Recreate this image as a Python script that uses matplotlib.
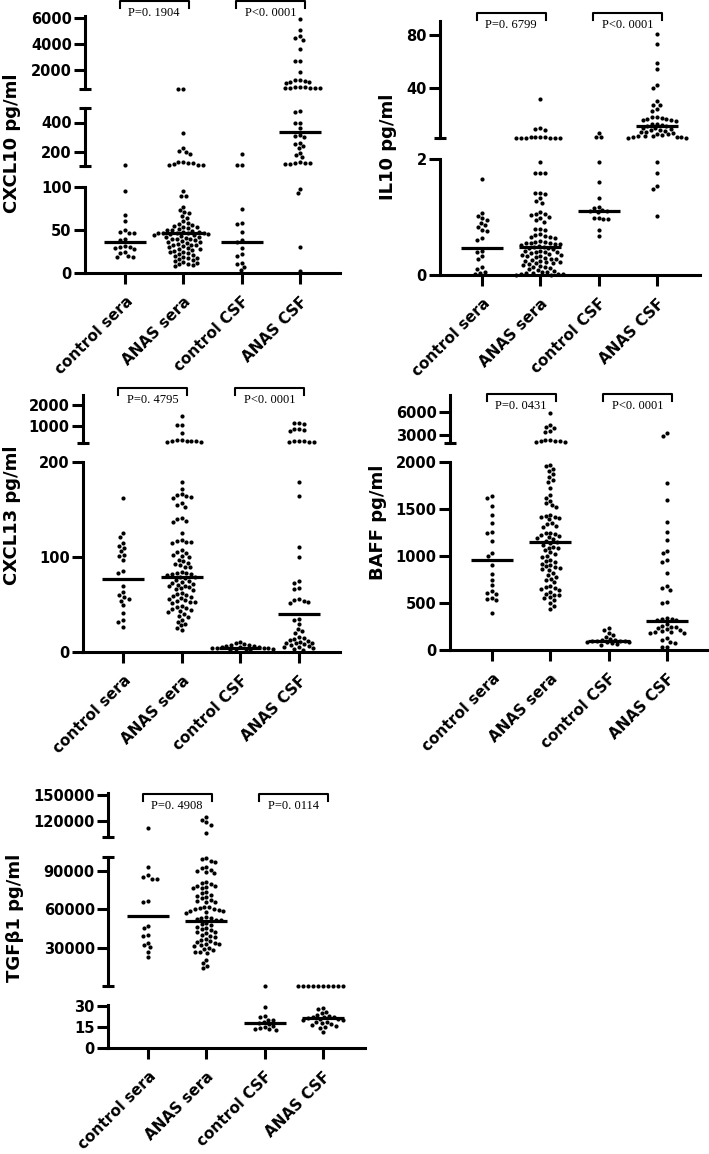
import numpy as np
import matplotlib
matplotlib.use("Agg")
import matplotlib.pyplot as plt
from matplotlib.transforms import blended_transform_factory

plt.rcParams['font.family'] = ['DejaVu Sans']
plt.rcParams['font.weight'] = 'bold'

W, H = 709, 1154

groups = ['control sera', 'ANAS sera', 'control CSF', 'ANAS CSF']

# ---- CXCL10 ----
CXCL10_CTRL_SERA = [105, 95, 68, 61, 50, 48, 47, 46, 40, 38, 31, 30, 30, 29, 28, 24, 23, 20, 19, 19]
CXCL10_ANAS_SERA = [560, 555, 330, 225, 205, 195, 185, 130, 125, 120, 118, 115, 110, 108, 105,
                    95, 90, 89, 77, 73, 71, 70, 66, 64, 60, 58, 57, 56, 55, 54, 53, 52, 51, 50, 50,
                    49, 48, 48, 47, 47, 46, 46, 46, 45, 45, 44, 44, 43, 42, 42, 41, 40, 40, 39, 38,
                    37, 36, 36, 35, 34, 33, 32, 32, 31, 30, 29, 28, 28, 27, 26, 25, 24, 23, 22, 21,
                    20, 19, 18, 17, 16, 15, 14, 13, 12, 11, 10, 9, 8]
CXCL10_CTRL_CSF = [180, 108, 106, 74, 58, 57, 48, 38, 36, 29, 22, 20, 12, 10, 7, 3]
CXCL10_ANAS_CSF = [5900, 5050, 4600, 4450, 4300, 3600, 2700, 2680, 1850, 1250, 1200, 1150, 1100,
                   1050, 1000, 700, 680, 660, 650, 640, 620, 600, 580, 480, 475, 400, 395, 360,
                   315, 310, 300, 260, 250, 235, 225, 190, 175, 160, 125, 122, 120, 118, 115, 112,
                   98, 93, 30, 2]
CXCL10_MEDIAN = [36, 46, 36, 333]
CXCL10_P = ['P=0. 1904', 'P<0. 0001']

# ---- IL10 ----
IL10_CTRL_SERA = [1.66, 1.07, 1.02, 0.98, 0.94, 0.90, 0.86, 0.83, 0.77, 0.76, 0.63, 0.61, 0.41,
                  0.39, 0.32, 0.28, 0.13, 0.11, 0.06, 0.04, 0.01]
IL10_ANAS_SERA = [31.5, 9.8, 9.2, 8.5, 3.0, 2.9, 2.8, 2.7, 2.6, 2.5, 2.5, 2.4, 2.4, 2.35,
                  1.95, 1.76, 1.76, 1.75, 1.42, 1.41, 1.40, 1.32, 1.28, 1.24, 1.08, 1.06, 1.05,
                  1.03, 1.00, 0.98, 0.95, 0.92, 0.80, 0.79, 0.78, 0.70, 0.69, 0.68, 0.66, 0.65,
                  0.64, 0.58, 0.57, 0.57, 0.56, 0.56, 0.55, 0.54, 0.53, 0.52, 0.50, 0.49, 0.48,
                  0.47, 0.46, 0.44, 0.42, 0.41, 0.40, 0.40, 0.39, 0.38, 0.36, 0.35, 0.34, 0.33,
                  0.32, 0.31, 0.30, 0.28, 0.27, 0.26, 0.25, 0.24, 0.23, 0.22, 0.21, 0.20, 0.19,
                  0.17, 0.15, 0.14, 0.13, 0.12, 0.10, 0.08, 0.07, 0.06, 0.05, 0.04, 0.03, 0.02,
                  0.01, 0.01, 0.0, 0.0]
IL10_CTRL_CSF = [6.1, 3.0, 2.9, 1.95, 1.60, 1.33, 1.18, 1.16, 1.12, 1.11, 1.10, 1.09, 0.99, 0.98,
                 0.97, 0.96, 0.78, 0.67]
IL10_ANAS_CSF = [81, 73, 59, 54, 42, 40, 30, 27.5, 27, 24, 23, 18.5, 18, 17.5, 17, 16.5, 16.2, 16,
                 15.5, 13, 12.5, 12, 11.5, 11, 10, 9.5, 9, 8.5, 8, 7.5, 7, 6.5, 6, 5.5, 5, 4.5, 4,
                 3.8, 3.5, 3.2, 3, 2.8, 2.6, 2.5, 1.95, 1.76, 1.53, 1.48, 1.02]
IL10_MEDIAN = [0.47, 0.48, 1.10, 11.4]
IL10_P = ['P=0. 6799', 'P<0. 0001']

# ---- CXCL13 ----
CXCL13_CTRL_SERA = [162, 125, 121, 115, 112, 110, 106, 102, 101, 97, 85, 83, 69, 63, 60, 58, 56,
                    54, 49, 41, 34, 32, 26]
CXCL13_ANAS_SERA = [1480, 1060, 1040, 680, 340, 320, 310, 300, 290, 280, 270, 260, 179, 172, 166,
                    165, 164, 163, 162, 157, 155, 153, 141, 140, 138, 137, 125, 118, 117, 116, 116,
                    115, 107, 105, 104, 102, 101, 100, 97, 96, 94, 93, 92, 90, 89, 84, 83, 83, 82,
                    82, 81, 79, 79, 78, 76, 75, 74, 73, 72, 71, 70, 69, 68, 67, 66, 65, 62, 61, 60,
                    59, 58, 57, 56, 55, 54, 53, 53, 52, 48, 47, 46, 45, 44, 43, 42, 40, 38, 37, 34,
                    32, 30, 28, 25, 23]
CXCL13_CTRL_CSF = [11, 9, 8, 7, 7, 6, 6, 5, 5, 5, 4, 4, 4, 4, 3, 3, 3, 2, 2]
CXCL13_ANAS_CSF = [1150, 1130, 1100, 870, 850, 820, 760, 300, 290, 280, 270, 260, 250, 179, 164,
                   111, 100, 75, 73, 67, 66, 56, 55, 54, 53, 52, 35, 34, 29, 24, 22, 20, 16, 15,
                   14, 13, 12, 11, 10, 10, 9, 8, 7, 6, 5, 5, 4, 3, 2]
CXCL13_MEDIAN = [77, 79, 4.5, 40]
CXCL13_P = ['P=0. 4795', 'P<0. 0001']

# ---- BAFF ----
BAFF_CTRL_SERA = [1640, 1620, 1530, 1440, 1350, 1260, 1240, 1160, 1030, 1000, 905, 810, 745, 690,
                  625, 610, 600, 555, 540, 530, 395]
BAFF_ANAS_SERA = [5900, 4300, 4100, 3900, 3600, 3450, 2400, 2350, 2300, 2250, 2200, 2150, 2100,
                  1970, 1960, 1930, 1900, 1870, 1840, 1810, 1790, 1720, 1650, 1620, 1590, 1560,
                  1540, 1520, 1440, 1430, 1420, 1410, 1400, 1390, 1350, 1340, 1320, 1310, 1250,
                  1240, 1230, 1220, 1210, 1200, 1190, 1180, 1160, 1150, 1140, 1120, 1100, 1090,
                  1080, 1060, 1040, 1020, 1000, 990, 960, 950, 940, 920, 900, 890, 880, 870, 860,
                  850, 820, 800, 780, 760, 740, 720, 680, 670, 660, 650, 640, 620, 600, 590, 580,
                  565, 550, 530, 500, 470, 440]
BAFF_CTRL_CSF = [235, 210, 180, 160, 140, 120, 110, 105, 100, 98, 95, 92, 90, 88, 80, 70, 60, 55]
BAFF_ANAS_CSF = [3250, 2900, 1780, 1600, 1360, 1260, 1170, 1055, 1030, 960, 940, 820, 680, 660,
                 640, 510, 500, 345, 335, 330, 320, 315, 280, 260, 250, 240, 230, 220, 210, 200,
                 195, 190, 185, 180, 130, 110, 90, 75, 35, 30]
BAFF_MEDIAN = [957, 1150, 96, 309]
BAFF_P = ['P=0. 0431', 'P<0. 0001']

# ---- TGFb1 ----
TGFB1_CTRL_SERA = [112000, 93000, 86500, 85000, 84000, 83500, 66500, 66000, 47000, 45000, 40000,
                   39500, 34000, 32000, 30500, 26500, 22500]
TGFB1_ANAS_SERA = [124000, 121000, 118000, 115500, 105500, 100000, 99000, 98000, 97000, 93000,
                   92000, 91000, 90000, 89000, 88500, 81500, 80500, 79500, 78500, 78000, 77500,
                   77000, 76500, 73500, 72500, 71500, 70500, 69500, 68500, 67500, 66500, 66000,
                   65500, 62000, 61500, 61000, 60500, 60000, 59500, 59000, 58500, 58000, 57500,
                   54000, 53500, 53000, 52500, 52000, 51500, 49500, 48500, 47500, 46500, 45500,
                   44500, 43500, 42500, 42000, 41500, 40000, 39000, 38000, 37000, 36000, 35000,
                   34500, 34000, 33000, 32500, 32000, 31500, 30000, 29000, 28000, 27000, 26500,
                   26000, 20500, 18000, 16000, 14000]
TGFB1_CTRL_CSF = [40, 29.5, 23, 22, 20.5, 20, 19, 18, 17, 16, 15, 14.5, 14, 13.5, 13]
TGFB1_ANAS_CSF = [40, 40, 40, 40, 40, 40, 40, 40, 40, 40, 28.5, 28, 26, 25, 24, 23, 22.5, 22, 22,
                  21.5, 21, 21, 20.5, 20, 19, 18.5, 18, 17, 16.5, 16, 15, 14.5, 11.5]
TGFB1_MEDIAN = [54800, 50900, 18, 21.5]
TGFB1_P = ['P=0. 4908', 'P=0. 0114']

# layout in pixels: axis x-range, first tick px, tick spacing, segments (top px, bottom px, lo, hi, ticks)
panels = [
    dict(label='CXCL10 pg/ml', data=[CXCL10_CTRL_SERA, CXCL10_ANAS_SERA, CXCL10_CTRL_CSF, CXCL10_ANAS_CSF],
         med=CXCL10_MEDIAN, p=CXCL10_P, x0=85, x1=340, t0=125, sp=58.33,
         segs=[(187, 273, 0, 100, [0, 50, 100]), (108, 166, 100, 500, [200, 400]),
               (16, 89, 540, 6150, [2000, 4000, 6000])],
         lab=(12, 143), br=1),
    dict(label='IL10 pg/ml', data=[IL10_CTRL_SERA, IL10_ANAS_SERA, IL10_CTRL_CSF, IL10_ANAS_CSF],
         med=IL10_MEDIAN, p=IL10_P, x0=440, x1=700, t0=482, sp=58.33,
         segs=[(159, 275, 0, 2, [0, 2]), (21, 138, 2.3, 90.6, [40, 80])],
         lab=(388, 147), br=13),
    dict(label='CXCL13 pg/ml', data=[CXCL13_CTRL_SERA, CXCL13_ANAS_SERA, CXCL13_CTRL_CSF, CXCL13_ANAS_CSF],
         med=CXCL13_MEDIAN, p=CXCL13_P, x0=83, x1=340, t0=123, sp=58.67,
         segs=[(462, 652, 0, 200, [0, 100, 200]), (395, 443, 201, 2480, [1000, 2000])],
         lab=(12, 515), br=388),
    dict(label='BAFF pg/ml', data=[BAFF_CTRL_SERA, BAFF_ANAS_SERA, BAFF_CTRL_CSF, BAFF_ANAS_CSF],
         med=BAFF_MEDIAN, p=BAFF_P, x0=450, x1=707, t0=492, sp=58.33,
         segs=[(462, 650, 0, 2000, [0, 500, 1000, 1500, 2000]), (395, 443, 2001, 8217, [3000, 6000])],
         lab=(378, 522), br=394),
    dict(label='TGFβ1 pg/ml', data=[TGFB1_CTRL_SERA, TGFB1_ANAS_SERA, TGFB1_CTRL_CSF, TGFB1_ANAS_CSF],
         med=TGFB1_MEDIAN, p=TGFB1_P, x0=108, x1=365, t0=148, sp=58.33,
         segs=[(1005, 1048, 0, 31, [0, 15, 30]), (857, 986, 35, 100900, [30000, 60000, 90000]),
               (793, 837, 101000, 152500, [120000, 150000])],
         lab=(15, 918), br=794),
]

LW = 2.2
DOT_D = 4.9  # px between dot centres


def swarm(ys, d):
    xs = np.zeros(len(ys))
    placed = []
    for i in np.argsort(ys, kind='stable'):
        y = ys[i]
        near = [(xj, yj) for xj, yj in placed if abs(yj - y) < d]
        cands = [0.0]
        for xj, yj in near:
            off = np.sqrt(d * d - (yj - y) ** 2)
            cands += [xj - off, xj + off]
        cands.sort(key=abs)
        for c in cands:
            if all((c - xj) ** 2 + (y - yj) ** 2 >= d * d - 1e-6 for xj, yj in near):
                xs[i] = c
                break
        placed.append((xs[i], y))
    return xs


def seg_of(v, segs):
    for k, (_, _, lo, hi, _) in enumerate(segs):
        if lo <= v <= hi:
            return k
    dists = [min(abs(v - lo), abs(v - hi)) for (_, _, lo, hi, _) in segs]
    return int(np.argmin(dists))


fig = plt.figure(figsize=(W / 100, H / 100), dpi=100)

for P in panels:
    x0, x1, t0, sp = P['x0'], P['x1'], P['t0'], P['sp']
    xlim = ((x0 - t0) / sp, (x1 - t0) / sp)
    axes = []
    nseg = len(P['segs'])
    for k, (yt, yb, lo, hi, ticks) in enumerate(P['segs']):
        ax = fig.add_axes([x0 / W, 1 - yb / H, (x1 - x0) / W, (yb - yt) / H])
        ax.set_xlim(*xlim)
        ax.set_ylim(lo, hi)
        ax.patch.set_alpha(0)
        for s in ['top', 'right']:
            ax.spines[s].set_visible(False)
        ax.spines['left'].set_linewidth(LW)
        ax.set_yticks(ticks)
        ax.set_yticklabels([f'{t:g}' for t in ticks])
        ax.tick_params(axis='y', length=8, width=LW, labelsize=10.5, pad=1.5)
        if k == 0:
            ax.spines['bottom'].set_linewidth(LW)
            ax.set_xticks(range(4))
            ax.set_xticklabels(groups, rotation=45, ha='right', rotation_mode='anchor',
                               fontsize=11, fontweight='bold')
            ax.tick_params(axis='x', length=8, width=LW, pad=7)
        else:
            ax.spines['bottom'].set_visible(False)
            ax.set_xticks([])
        cap = 6 / (x1 - x0)
        if k > 0:
            ax.plot([-cap, cap], [0, 0], transform=ax.transAxes, color='black', lw=LW,
                    clip_on=False, solid_capstyle='butt')
        if 0 < k < nseg - 1:
            ax.plot([-cap, cap], [1, 1], transform=ax.transAxes, color='black', lw=LW,
                    clip_on=False, solid_capstyle='butt')
        axes.append(ax)

    # points
    for gi, vals in enumerate(P['data']):
        vals = np.asarray(vals, dtype=float)
        segk = np.array([seg_of(v, P['segs']) for v in vals])
        ypx = np.empty(len(vals))
        for j, (v, k) in enumerate(zip(vals, segk)):
            yt, yb, lo, hi, _ = P['segs'][k]
            ypx[j] = yb - (v - lo) / (hi - lo) * (yb - yt)
        dx = swarm(ypx, DOT_D)
        for k in range(nseg):
            m = segk == k
            if m.any():
                axes[k].scatter(gi + dx[m] / sp, vals[m], s=9, color='black', linewidths=0,
                                clip_on=False, zorder=3)
        med = P['med'][gi]
        k = seg_of(med, P['segs'])
        axes[k].plot([gi - 0.36, gi + 0.36], [med, med], color='black', lw=2.3,
                     solid_capstyle='butt', zorder=4)

    # brackets
    ax0 = axes[0]
    tr = blended_transform_factory(ax0.transData, fig.transFigure)
    yl = 1 - P['br'] / H
    yleg = 1 - (P['br'] + 7) / H
    for (a, b), txt in zip([(0, 1), (2, 3)], P['p']):
        ax0.plot([a - 0.09, a - 0.09, b + 0.09, b + 0.09], [yleg, yl, yl, yleg], transform=tr,
                 color='black', lw=1.5, clip_on=False)
        ax0.text((a + b) / 2, 1 - (P['br'] + 12) / H, txt, transform=tr, ha='center',
                 va='center', fontsize=9, fontweight='normal', family='Liberation Serif')

    fig.text(P['lab'][0] / W, 1 - P['lab'][1] / H, P['label'], rotation=90, ha='center',
             va='center', fontsize=13, fontweight='bold')

fig.savefig('out.png', dpi=100)
